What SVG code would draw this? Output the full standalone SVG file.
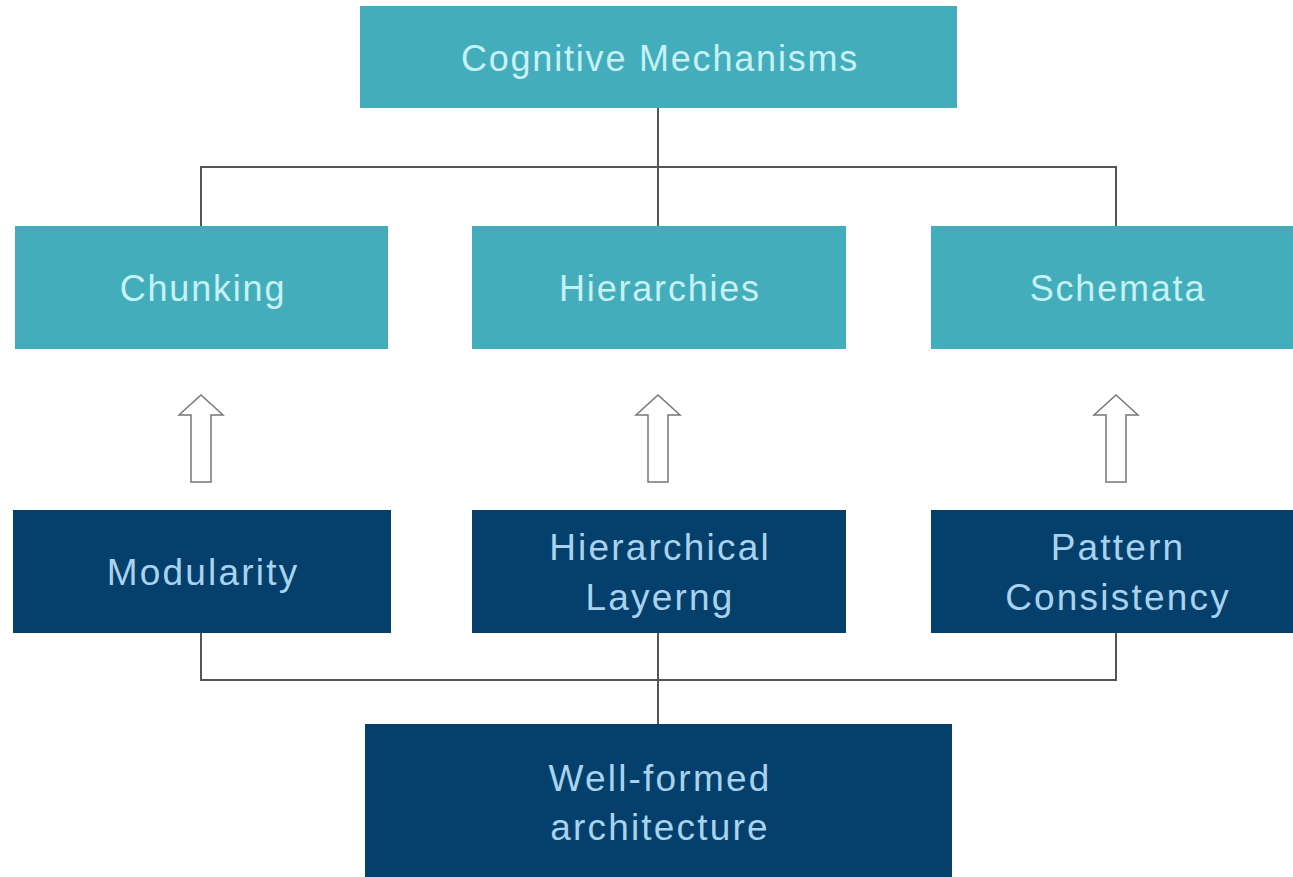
<svg xmlns="http://www.w3.org/2000/svg" width="1293" height="877" viewBox="0 0 1293 877">
<style>
.teal{fill:#44adbb}
.navy{fill:#053f6b}
.tl{font-family:"Liberation Sans",Arial,sans-serif;font-size:36px;letter-spacing:1.8px;fill:#c6f1f5;text-anchor:middle}
.tn{font-family:"Liberation Sans",Arial,sans-serif;font-size:37px;letter-spacing:2.2px;fill:#a8d3ee;text-anchor:middle}
.ln{fill:none;stroke:#555;stroke-width:2}
.ar{fill:#fff;stroke:#777;stroke-width:1.5}
</style>
<defs>
<path id="uparrow" d="M0,0 L22,20 L10,20 L10,87 L-10,87 L-10,20 L-22,20 Z"/>
</defs>
<rect width="1293" height="877" fill="#fff"/>
<g id="connectors">
<path class="ln" d="M658,108 V226 M201,226 V167 H1116 V226"/>
<path class="ln" d="M201,633 V680 H1116 V633 M658,633 V724"/>
</g>
<g id="arrows">
<use href="#uparrow" class="ar" x="201" y="395"/>
<use href="#uparrow" class="ar" x="658" y="395"/>
<use href="#uparrow" class="ar" x="1116" y="395"/>
</g>
<g id="cognitive"><rect class="teal" x="360" y="6" width="597" height="102"/><text class="tl" x="660" y="71">Cognitive Mechanisms</text></g>
<g id="chunking"><rect class="teal" x="15" y="226" width="373" height="123"/><text class="tl" x="203" y="301">Chunking</text></g>
<g id="hierarchies"><rect class="teal" x="472" y="226" width="374" height="123"/><text class="tl" x="660" y="301">Hierarchies</text></g>
<g id="schemata"><rect class="teal" x="931" y="226" width="362" height="123"/><text class="tl" x="1118" y="301">Schemata</text></g>
<g id="modularity"><rect class="navy" x="13" y="510" width="378" height="123"/><text class="tn" x="203" y="585">Modularity</text></g>
<g id="layering"><rect class="navy" x="472" y="510" width="374" height="123"/><text class="tn" x="660" y="560">Hierarchical</text><text class="tn" x="660" y="610">Layerng</text></g>
<g id="pattern"><rect class="navy" x="931" y="510" width="362" height="123"/><text class="tn" x="1118" y="560">Pattern</text><text class="tn" x="1118" y="610">Consistency</text></g>
<g id="wellformed"><rect class="navy" x="365" y="724" width="587" height="153"/><text class="tn" x="660" y="791">Well-formed</text><text class="tn" x="660" y="840">architecture</text></g>
</svg>
